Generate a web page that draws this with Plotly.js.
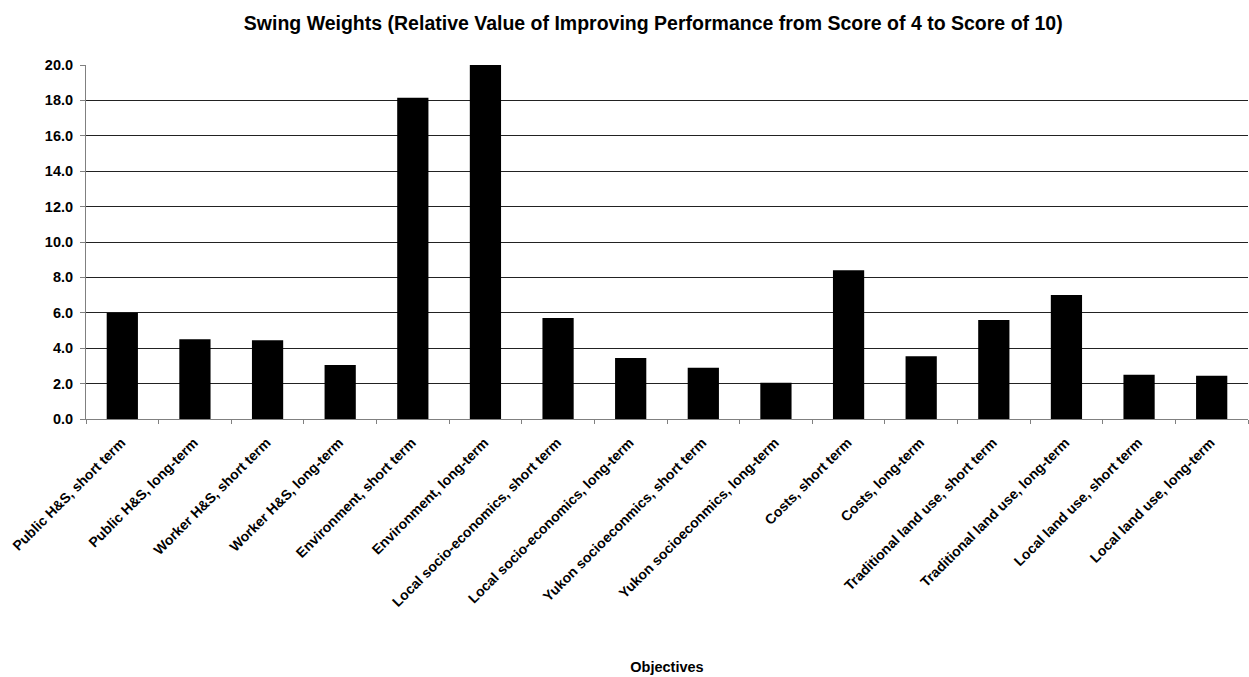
<!DOCTYPE html>
<html>
<head>
<meta charset="utf-8">
<script src="https://cdn.plot.ly/plotly-3.0.1.min.js"></script>
<style>html,body{margin:0;padding:0;background:#fff;}#chart{width:1249px;height:677px;}</style>
</head>
<body>
<div id="chart"></div>
<script>
const categories = [
  "Public H&S, short term",
  "Public H&S, long-term",
  "Worker H&S, short term",
  "Worker H&S, long-term",
  "Environment, short term",
  "Environment, long-term",
  "Local socio-economics, short term",
  "Local socio-economics, long-term",
  "Yukon socioeconmics, short term",
  "Yukon socioeconmics, long-term",
  "Costs, short term",
  "Costs, long-term",
  "Traditional land use, short term",
  "Traditional land use, long-term",
  "Local land use, short term",
  "Local land use, long-term"
];
const swingWeights = [6.0, 4.5, 4.45, 3.05, 18.15, 20.0, 5.7, 3.45, 2.9, 2.05, 8.4, 3.55, 5.6, 7.0, 2.5, 2.45];
const yTickVals = [0, 2, 4, 6, 8, 10, 12, 14, 16, 18, 20];
const yTickText = yTickVals.map(v => v.toFixed(1));

const trace = {
  type: 'bar',
  x: categories,
  y: swingWeights,
  marker: {color: '#000000', line: {width: 0}},
  hoverinfo: 'x+y'
};

const layout = {
  width: 1249,
  height: 677,
  margin: {l: 86, r: 1, t: 65, b: 258},
  paper_bgcolor: '#ffffff',
  plot_bgcolor: '#ffffff',
  showlegend: false,
  bargap: 0.57,
  font: {family: 'Liberation Sans, Arial, sans-serif', color: '#000'},
  title: {
    text: 'Swing Weights (Relative Value of Improving Performance from Score of 4 to Score of 10)',
    font: {family: 'Liberation Sans, Arial, sans-serif', size: 19.5, color: '#000', weight: 'bold'},
    x: 0.523, xanchor: 'center', y: 0.966, yanchor: 'middle'
  },
  xaxis: {
    type: 'category',
    tickangle: -45,
    tickfont: {size: 14, weight: 'bold', color: '#000'},
    ticklabelshift: -1,
    ticklabelstandoff: 9,
    showline: true, linecolor: '#808080', linewidth: 1,
    ticks: 'outside', ticklen: 4, tickcolor: '#808080',
    tickson: 'boundaries',
    showgrid: false,
    automargin: false,
    title: {text: 'Objectives', font: {size: 14.5, weight: 'bold', color: '#000'}, standoff: 53}
  },
  yaxis: {
    range: [0, 20],
    tickvals: yTickVals,
    ticktext: yTickText,
    tickfont: {size: 14.5, weight: 'bold', color: '#000'},
    ticklabelstandoff: 4,
    showline: true, linecolor: '#808080', linewidth: 1,
    ticks: 'outside', ticklen: 5, tickcolor: '#808080',
    showgrid: true, gridcolor: '#222222', gridwidth: 1,
    zeroline: false,
    automargin: false
  }
};

Plotly.newPlot('chart', [trace], layout, {displayModeBar: false, staticPlot: true});
</script>
</body>
</html>
